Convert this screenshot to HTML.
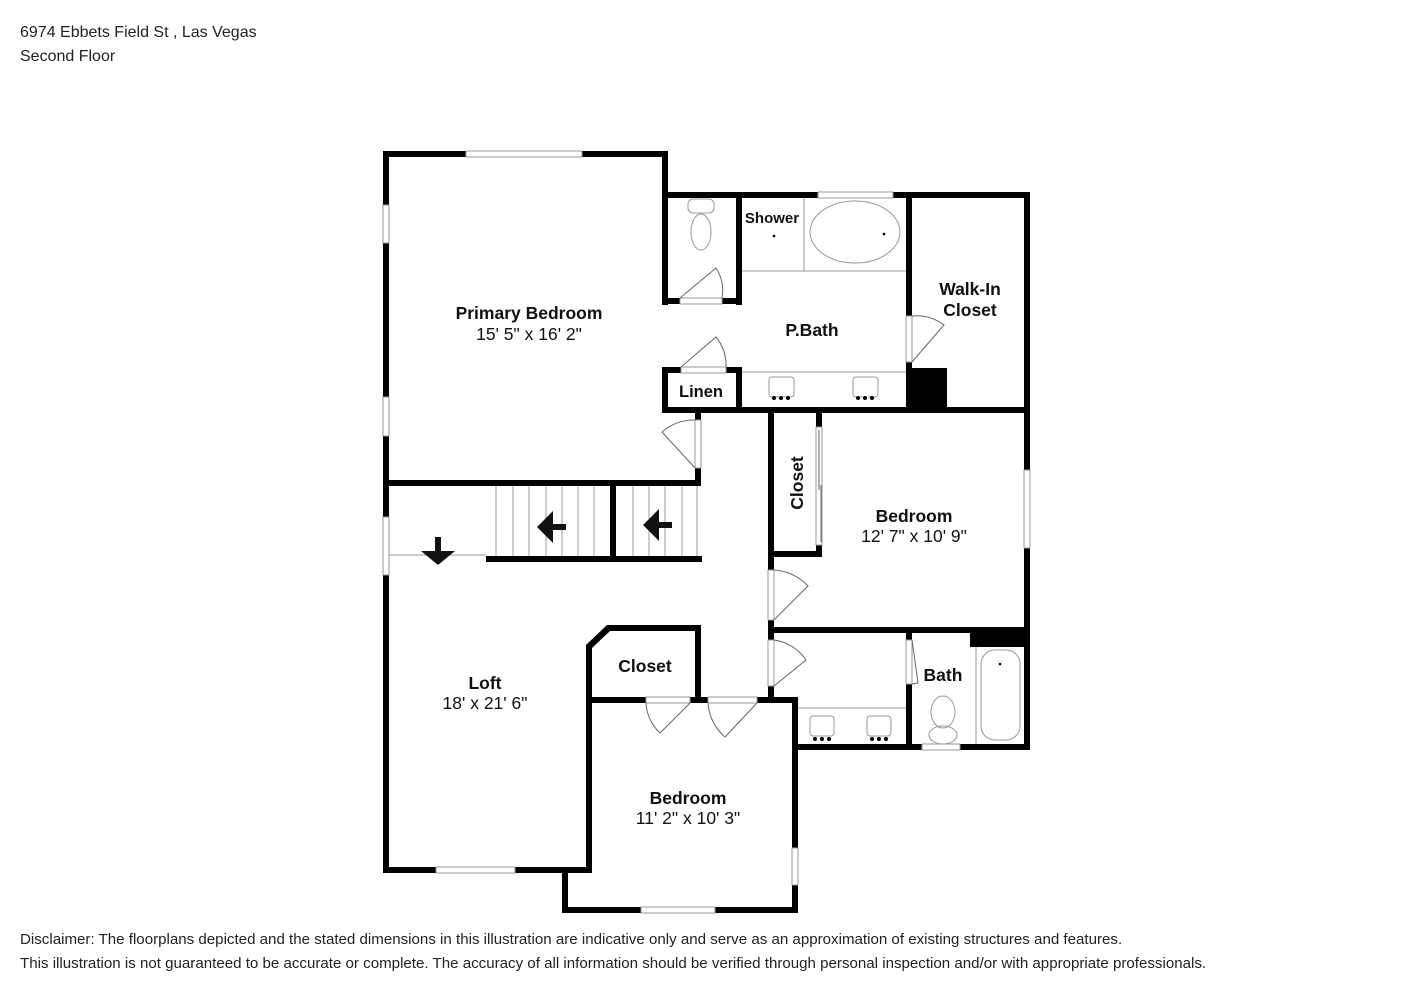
<!DOCTYPE html>
<html><head><meta charset="utf-8"><style>
html,body{margin:0;padding:0;background:#fff;}
body{width:1414px;height:1000px;overflow:hidden;font-family:"Liberation Sans",Arial,sans-serif;}
</style></head><body>
<svg width="1414" height="1000" viewBox="0 0 1414 1000" xmlns="http://www.w3.org/2000/svg" font-family="Liberation Sans, Arial, sans-serif">
<rect width="1414" height="1000" fill="#fff"/>
<text x="20" y="37" font-size="16" fill="#222">6974 Ebbets Field St , Las Vegas</text>
<text x="20" y="61" font-size="16" fill="#222">Second Floor</text>
<text x="20" y="944" font-size="15.1" fill="#222">Disclaimer: The floorplans depicted and the stated dimensions in this illustration are indicative only and serve as an approximation of existing structures and features.</text>
<text x="20" y="968" font-size="15.1" fill="#222">This illustration is not guaranteed to be accurate or complete. The accuracy of all information should be verified through personal inspection and/or with appropriate professionals.</text>

<g stroke="#999" stroke-width="1" fill="none">
<line x1="742" y1="271" x2="906" y2="271"/>
<line x1="804" y1="198" x2="804" y2="271"/>
<ellipse cx="855" cy="232" rx="45" ry="31"/>
<line x1="742" y1="372" x2="906" y2="372"/>
<rect x="769" y="377" width="25" height="20" rx="3"/>
<rect x="853" y="377" width="25" height="20" rx="3"/>
<line x1="389" y1="555" x2="486" y2="555"/>
<g>
<line x1="496" y1="486" x2="496" y2="556"/><line x1="513" y1="486" x2="513" y2="556"/><line x1="529" y1="486" x2="529" y2="556"/><line x1="546" y1="486" x2="546" y2="556"/><line x1="562" y1="486" x2="562" y2="556"/><line x1="578" y1="486" x2="578" y2="556"/><line x1="594" y1="486" x2="594" y2="556"/>
<line x1="633" y1="486" x2="633" y2="556"/><line x1="649" y1="486" x2="649" y2="556"/><line x1="665" y1="486" x2="665" y2="556"/><line x1="682" y1="486" x2="682" y2="556"/><line x1="697" y1="486" x2="697" y2="556"/>
</g>
<line x1="798" y1="708" x2="906" y2="708"/>
<rect x="810" y="716" width="24" height="20" rx="3"/>
<rect x="867" y="716" width="24" height="20" rx="3"/>
<line x1="976" y1="647" x2="976" y2="744"/>
<rect x="981" y="650" width="39" height="90" rx="14"/>
<ellipse cx="943" cy="712" rx="12" ry="16"/>
<ellipse cx="943" cy="735" rx="14" ry="9"/>
<rect x="688" y="199" width="26" height="14" rx="5"/>
<ellipse cx="701" cy="232" rx="10" ry="18"/>
</g>
<g fill="#000">
<circle cx="774" cy="236" r="1.3"/><circle cx="884" cy="234" r="1.3"/><circle cx="1000" cy="664" r="1.3"/>
<circle cx="774" cy="398" r="2"/><circle cx="781" cy="398" r="2"/><circle cx="788" cy="398" r="2"/>
<circle cx="858" cy="398" r="2"/><circle cx="865" cy="398" r="2"/><circle cx="872" cy="398" r="2"/>
<circle cx="815" cy="739" r="2"/><circle cx="822" cy="739" r="2"/><circle cx="829" cy="739" r="2"/>
<circle cx="872" cy="739" r="2"/><circle cx="879" cy="739" r="2"/><circle cx="886" cy="739" r="2"/>
</g>

<g fill="#000">
<rect x="383" y="151" width="6" height="722"/>
<rect x="383" y="151" width="285" height="6"/>
<rect x="662" y="151" width="6" height="154"/>
<rect x="662" y="192" width="368" height="6"/>
<rect x="1024" y="192" width="6" height="558"/>
<rect x="736" y="192" width="6" height="113"/>
<rect x="662" y="298" width="80" height="6"/>
<rect x="906" y="192" width="6" height="218"/>
<rect x="906" y="368" width="41" height="42"/>
<rect x="662" y="367" width="80" height="6"/>
<rect x="662" y="367" width="6" height="46"/>
<rect x="736" y="367" width="6" height="46"/>
<rect x="662" y="407" width="368" height="6"/>
<rect x="695" y="407" width="6" height="79"/>
<rect x="383" y="480" width="318" height="6"/>
<rect x="610" y="480" width="6" height="82"/>
<rect x="486" y="556" width="216" height="6"/>
<rect x="768" y="407" width="6" height="296"/>
<rect x="768" y="551" width="54" height="6"/>
<rect x="816" y="407" width="6" height="150"/>
<rect x="768" y="627" width="262" height="6"/>
<rect x="970" y="627" width="60" height="20"/>
<rect x="906" y="633" width="6" height="117"/>
<rect x="768" y="697" width="30" height="6"/>
<rect x="586" y="697" width="212" height="6"/>
<rect x="695" y="625" width="6" height="78"/>
<rect x="609" y="625" width="92" height="6"/>
<polygon points="586,645 607,625 613,625 613,631 610,631 592,648 592,645"/>
<rect x="586" y="645" width="6" height="228"/>
<rect x="792" y="697" width="6" height="216"/>
<rect x="792" y="744" width="238" height="6"/>
<rect x="383" y="867" width="209" height="6"/>
<rect x="562" y="867" width="6" height="46"/>
<rect x="562" y="907" width="236" height="6"/>
</g>

<g fill="#fff" stroke="#999" stroke-width="1">
<rect x="466" y="151" width="116" height="6"/>
<rect x="383" y="205" width="6" height="38"/>
<rect x="383" y="397" width="6" height="39"/>
<rect x="383" y="517" width="6" height="58"/>
<rect x="818" y="192" width="75" height="6"/>
<rect x="1024" y="470" width="6" height="78"/>
<rect x="436" y="867" width="79" height="6"/>
<rect x="641" y="907" width="74" height="6"/>
<rect x="792" y="848" width="6" height="37"/>
<rect x="922" y="744" width="38" height="6"/>
<rect x="680" y="298" width="42" height="6"/>
<rect x="681" y="367" width="45" height="6"/>
<rect x="906" y="316" width="6" height="46"/>
<rect x="695" y="420" width="6" height="48"/>
<rect x="816" y="427" width="6" height="118"/>
<rect x="768" y="570" width="6" height="50"/>
<rect x="768" y="640" width="6" height="46"/>
<rect x="906" y="640" width="6" height="44"/>
<rect x="646" y="697" width="44" height="6"/>
<rect x="708" y="697" width="49" height="6"/>
</g>
<g fill="none" stroke="#666" stroke-width="1">
<path d="M680 298 L716 268 A42 42 0 0 1 722 298"/>
<path d="M681 367 L716 337 A45 45 0 0 1 726 367"/>
<path d="M912 362 L944 325 A46 46 0 0 0 912 316"/>
<path d="M695 468 L662 432 A48 48 0 0 1 695 420"/>
<line x1="819" y1="430" x2="819" y2="490"/><line x1="821" y1="485" x2="821" y2="542"/>
<path d="M774 620 L808 586 A50 50 0 0 0 774 570"/>
<path d="M774 686 L806 660 A46 46 0 0 0 774 640"/>
<path d="M912 640 L918 683 L912 684"/>
<path d="M690 703 L660 733 A44 44 0 0 1 646 703"/>
<path d="M757 703 L725 737 A49 49 0 0 1 708 703"/>
</g>
<g fill="#111">
<polygon points="537,527 553,511 553,543"/><rect x="550" y="524" width="16" height="6"/>
<polygon points="643,525 659,509 659,541"/><rect x="656" y="522" width="16" height="6"/>
<polygon points="421,551 455,551 438,565"/><rect x="435" y="537" width="6" height="16"/>
</g>

<g font-size="17.5" fill="#111" text-anchor="middle">
<text x="529" y="319" font-weight="bold">Primary Bedroom</text>
<text x="529" y="340">15' 5" x 16' 2"</text>
<text x="772" y="223" font-weight="bold" font-size="15">Shower</text>
<text x="812" y="336" font-weight="bold">P.Bath</text>
<text x="970" y="295" font-weight="bold">Walk-In</text>
<text x="970" y="316" font-weight="bold">Closet</text>
<text x="701" y="397" font-weight="bold" font-size="16.5">Linen</text>
<text x="914" y="522" font-weight="bold">Bedroom</text>
<text x="914" y="542">12' 7" x 10' 9"</text>
<text transform="translate(803,483) rotate(-90)" font-weight="bold">Closet</text>
<text x="645" y="672" font-weight="bold">Closet</text>
<text x="485" y="689" font-weight="bold">Loft</text>
<text x="485" y="709">18' x 21' 6"</text>
<text x="943" y="681" font-weight="bold">Bath</text>
<text x="688" y="804" font-weight="bold">Bedroom</text>
<text x="688" y="824">11' 2" x 10' 3"</text>
</g>
</svg>
</body></html>
